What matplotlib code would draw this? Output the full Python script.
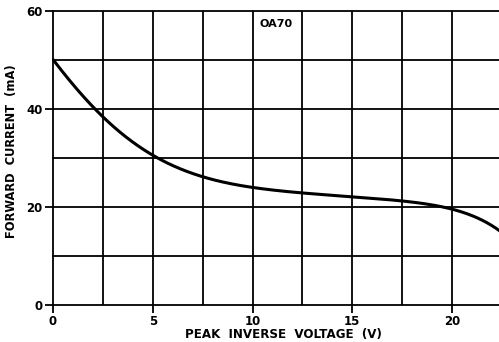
import matplotlib.pyplot as plt
import numpy as np

# OA70 forward current vs peak inverse voltage
voltage = [0, 1, 2.5, 4, 5, 7.5, 10, 12.5, 15, 17.5, 20, 22.4]
current = [50, 45.2, 38.4, 33.0, 30.6, 26.4, 23.9, 22.8, 22.1, 21.3, 19.5, 15.1]

x_ticks = [0, 5, 10, 15, 20]
y_ticks = [0, 20, 40, 60]

plt.rcParams['font.family'] = ['DejaVu Sans']
plt.rcParams['font.weight'] = 'bold'

fig = plt.figure(figsize=(4.99, 3.42), dpi=100)
ax = fig.add_axes([53 / 499, 1 - 305 / 342, 1 - 53 / 499, (305 - 11) / 342])

# smooth the curve through the read-off points
xs = np.linspace(voltage[0], voltage[-1], 300)
coef = np.polyfit(voltage, current, 6)
ax.plot(xs, np.polyval(coef, xs), color='black', lw=2.2, solid_capstyle='round')

ax.set_xlim(0, 22.35)
ax.set_ylim(0, 60)

for gx in np.arange(2.5, 22.5, 2.5):
    ax.axvline(gx, color='black', lw=1.3)
for gy in np.arange(10, 61, 10):
    ax.axhline(gy, color='black', lw=1.3, clip_on=False)

for side in ['top', 'right']:
    ax.spines[side].set_visible(False)
ax.spines['left'].set_linewidth(1.3)
ax.spines['bottom'].set_linewidth(1.3)

ax.set_xticks(x_ticks)
ax.set_yticks(y_ticks)
ax.tick_params(direction='out', length=6, width=1.3, colors='black',
               labelsize=8.5, pad=1.5)
ax.set_xlabel('PEAK  INVERSE  VOLTAGE  (V)', fontsize=8.6, fontweight='bold')
ax.set_ylabel('FORWARD  CURRENT  (mA)', fontsize=8.3, fontweight='bold')
ax.xaxis.set_label_coords(0.516, -0.1)
ax.xaxis.label.set_va('center')
ax.yaxis.set_label_coords(-0.092, 0.524)
ax.yaxis.label.set_va('center')

ax.text(11.2, 57.3, 'OA70', fontsize=8, fontweight='bold', ha='center',
        va='center')

fig.savefig('out.png', dpi=100)
